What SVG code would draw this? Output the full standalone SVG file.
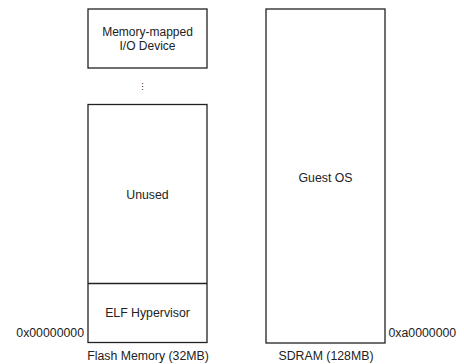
<svg xmlns="http://www.w3.org/2000/svg" width="464" height="364" viewBox="0 0 464 364">
<style>
.box{fill:#fff;stroke:#222;stroke-width:1.3}
text{font-family:"Liberation Sans",Arial,sans-serif;font-size:12.3px;fill:#222}
.c{text-anchor:middle}
</style>
<rect width="464" height="364" fill="#fff"/>
<g id="io-device">
<rect class="box" x="88" y="9" width="119" height="59"/>
<text class="c" x="147.5" y="36" style="font-size:12px">Memory-mapped</text>
<text class="c" x="147.5" y="50" style="font-size:12px">I/O Device</text>
</g>
<g id="ellipsis">
<text class="c" x="142" y="90" style="font-size:9px">⋮</text>
</g>
<g id="flash">
<rect class="box" x="88" y="104.5" width="119" height="238"/>
<line x1="88" y1="283.5" x2="207" y2="283.5" stroke="#222" stroke-width="1.3"/>
<text class="c" x="147.5" y="199">Unused</text>
<text class="c" x="147.5" y="317">ELF Hypervisor</text>
<text x="84" y="337" text-anchor="end">0x00000000</text>
<text class="c" x="148" y="360">Flash Memory (32MB)</text>
</g>
<g id="sdram">
<rect class="box" x="266" y="9" width="119" height="334"/>
<text class="c" x="325.5" y="182">Guest OS</text>
<text x="388.5" y="337">0xa0000000</text>
<text class="c" x="326" y="360">SDRAM (128MB)</text>
</g>
<g id="connectors"></g>
</svg>
